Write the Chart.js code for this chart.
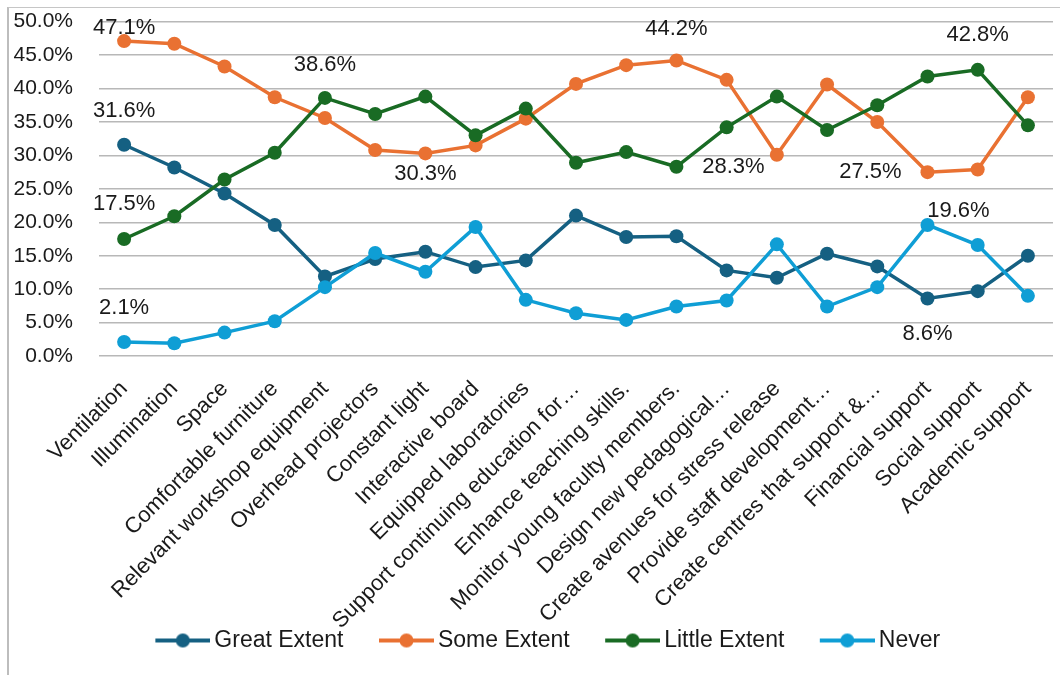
<!DOCTYPE html>
<html>
<head>
<meta charset="utf-8">
<title>Extent chart</title>
<script src="https://cdn.jsdelivr.net/npm/chart.js@4.4.1/dist/chart.umd.min.js"></script>
<style>
  body { margin: 0; background: #fff; }
  #frame { position: absolute; left: 7px; top: 7px; width: 1100px; height: 700px;
           border-left: 2px solid #BDBDBD; border-top: 1px solid #C6C6C6; }
  #chart { position: absolute; left: 0; top: 0; }
</style>
</head>
<body>
<div id="frame"></div>
<canvas id="chart" width="1060" height="675"></canvas>
<script>
// categories
var categorias = [
  "Ventilation", "Illumination", "Space", "Comfortable furniture",
  "Relevant workshop equipment", "Overhead projectors", "Constant light",
  "Interactive board", "Equipped laboratories", "Support continuing education for\u2026",
  "Enhance teaching skills.", "Monitor young faculty members.", "Design new pedagogical\u2026",
  "Create avenues for stress release", "Provide staff development\u2026",
  "Create centres that support &\u2026", "Financial support", "Social support", "Academic support"
];

// series (percent)
var greatExtent  = [31.6, 28.2, 24.3, 19.6, 11.9, 14.5, 15.6, 13.3, 14.3, 21.0, 17.8, 17.9, 12.8, 11.7, 15.3, 13.4, 8.6, 9.7, 15.0];
var someExtent   = [47.1, 46.7, 43.3, 38.7, 35.6, 30.8, 30.3, 31.5, 35.5, 40.7, 43.5, 44.2, 41.3, 30.1, 40.6, 35.0, 27.5, 27.9, 38.7];
var littleExtent = [17.5, 20.9, 26.4, 30.4, 38.6, 36.2, 38.8, 33.0, 37.0, 28.9, 30.5, 28.3, 34.2, 38.8, 33.8, 37.5, 41.8, 42.8, 34.5];
var never        = [2.1, 1.9, 3.5, 5.2, 10.3, 15.4, 12.6, 19.3, 8.4, 6.4, 5.4, 7.4, 8.3, 16.7, 7.4, 10.3, 19.6, 16.6, 9.0];

var nomesSeries = ["Great Extent", "Some Extent", "Little Extent", "Never"];
var cores = ["#156082", "#E97132", "#196B24", "#0F9ED5"];

// y ticks
var yMin = 0, yMax = 50, yPasso = 5;

// which points carry a value label (serie index, point index, offset)
var rotulos = [
  { serie: 1, ponto: 0,  dx: 0,   dy: -13 },
  { serie: 0, ponto: 0,  dx: 0,   dy: -34 },
  { serie: 2, ponto: 0,  dx: 0,   dy: -35 },
  { serie: 3, ponto: 0,  dx: 0,   dy: -34 },
  { serie: 2, ponto: 4,  dx: 0,   dy: -33 },
  { serie: 1, ponto: 6,  dx: 0,   dy: 21 },
  { serie: 1, ponto: 11, dx: 0,   dy: -32 },
  { serie: 2, ponto: 11, dx: 57,  dy: 0 },
  { serie: 1, ponto: 16, dx: -57, dy: 0 },
  { serie: 3, ponto: 16, dx: 31,  dy: -14 },
  { serie: 2, ponto: 17, dx: 0,   dy: -35 },
  { serie: 0, ponto: 16, dx: 0,   dy: 35 }
];

var FONTE = '"Liberation Sans", Arial, sans-serif';
var COR_TEXTO = "#1a1a1a";

// legend sample: line + marker, drawn into a small canvas used as pointStyle
var LEG_FONTE = 23, LEG_PAD = 1, LEG_CAIXA = 82;
var LEG_IMG = 97, LEG_LINHA = 55;
function IconeLegenda(cor) {
  var c = document.createElement("canvas");
  c.width = LEG_IMG; c.height = 16;
  var g = c.getContext("2d");
  g.strokeStyle = cor; g.lineWidth = 4;
  g.beginPath(); g.moveTo(LEG_IMG - LEG_LINHA, 8); g.lineTo(LEG_IMG, 8); g.stroke();
  g.fillStyle = cor;
  g.beginPath(); g.arc(LEG_IMG - LEG_LINHA / 2, 8, 7, 0, Math.PI * 2); g.fill();
  return c;
}
var icones = cores.map(IconeLegenda);

var pluginRotulos = {
  id: "rotulos",
  afterDatasetsDraw: function (chart) {
    var ctx = chart.ctx;
    ctx.save();
    ctx.font = "22px " + FONTE;
    ctx.fillStyle = COR_TEXTO;
    ctx.textAlign = "center";
    ctx.textBaseline = "middle";
    rotulos.forEach(function (r) {
      var pt = chart.getDatasetMeta(r.serie).data[r.ponto];
      var v = chart.data.datasets[r.serie].data[r.ponto];
      ctx.fillText(v.toFixed(1) + "%", pt.x + r.dx, pt.y + r.dy);
    });
    ctx.restore();
  }
};

function SemPadding(scale) {
  scale.paddingTop = 0;
  scale.paddingBottom = 0;
  scale.paddingLeft = 0;
  scale.paddingRight = 0;
}

var valores = [greatExtent, someExtent, littleExtent, never];
var datasets = [];
for (var i = 0; i < valores.length; i++) {
  datasets.push({
    label: nomesSeries[i],
    data: valores[i],
    borderColor: cores[i],
    backgroundColor: cores[i],
    pointBackgroundColor: cores[i],
    pointBorderColor: cores[i],
    borderWidth: 3.5,
    pointRadius: 7,
    pointBorderWidth: 0,
    tension: 0,
    order: valores.length - i
  });
}

new Chart(document.getElementById("chart").getContext("2d"), {
  type: "line",
  data: { labels: categorias, datasets: datasets },
  plugins: [pluginRotulos],
  options: {
    responsive: false,
    animation: false,
    devicePixelRatio: 1,
    layout: { padding: { left: 8, right: 7, top: 21.7, bottom: 13 } },
    scales: {
      x: {
        offset: true,
        grid: { display: false },
        border: { display: false },
        ticks: {
          autoSkip: false, maxRotation: 45, minRotation: 45, padding: 12,
          color: COR_TEXTO, font: { family: FONTE, size: 22 }
        },
        afterFit: function (scale) { scale.height = 272; SemPadding(scale); }
      },
      y: {
        min: yMin, max: yMax,
        grid: { color: "#B8B8B8", lineWidth: 1.4, drawTicks: false },
        border: { display: false },
        ticks: {
          stepSize: yPasso, padding: 26, color: COR_TEXTO,
          font: { family: FONTE, size: 21 },
          callback: function (v) { return v.toFixed(1) + "%"; }
        },
        afterFit: function (scale) { scale.width = 91; SemPadding(scale); }
      }
    },
    plugins: {
      tooltip: { enabled: false },
      legend: {
        position: "bottom",
        labels: {
          usePointStyle: true,
          pointStyleWidth: LEG_CAIXA,
          padding: LEG_PAD,
          color: COR_TEXTO,
          font: { family: FONTE, size: LEG_FONTE },
          generateLabels: function (chart) {
            var itens = Chart.defaults.plugins.legend.labels.generateLabels(chart);
            itens.sort(function (a, b) { return a.datasetIndex - b.datasetIndex; });
            itens.forEach(function (it) { it.pointStyle = icones[it.datasetIndex]; });
            return itens;
          }
        }
      }
    }
  }
});
</script>
</body>
</html>
